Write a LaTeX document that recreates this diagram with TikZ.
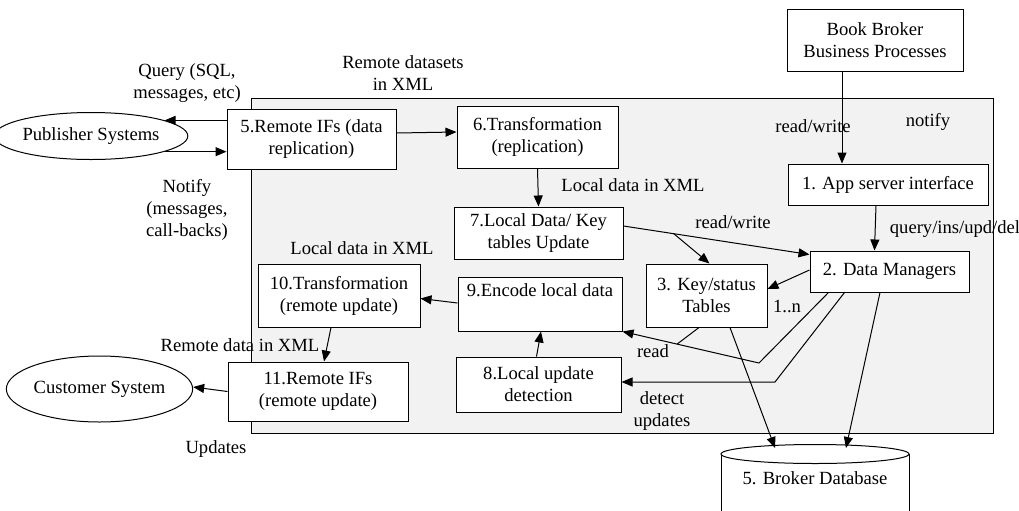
\documentclass[tikz,border=0pt]{standalone}
\usepackage{fontspec}
\setmainfont{Liberation Serif}
\usepackage{tikz}
\usetikzlibrary{arrows.meta, shapes.geometric, calc}

\begin{document}
\begin{tikzpicture}[x=0.5pt, y=-0.5pt,
        font=\fontsize{9.3}{11}\selectfont,
        box/.style 2 args={draw, fill=white, line width=0.5pt, inner sep=0pt, align=center,
            minimum width=#1*0.5pt, minimum height=#2*0.5pt},
        sys/.style 2 args={draw, ellipse, fill=white, line width=0.5pt, inner sep=0pt,
            minimum width=#1*0.5pt, minimum height=#2*0.5pt},
        flow/.style={-{Triangle[length=5.5pt, width=4.5pt]}, line width=0.5pt},
        link/.style={line width=0.5pt},
        lbl/.style={align=center, inner sep=0pt}]
        \def\panel{gray!10}
        \def\dbx{815}
        \def\dby{454}

        \useasboundingbox (0,0) rectangle (1019,510);
        \draw[link, fill=\panel] (251,98) rectangle (993,433);

        \node[sys={162}{47}] (pub) at (91,136) {Publisher Systems};
        \node[sys={165}{66}] (cust) at (99.5,389) {Customer System};

        \node[box={176}{62}] (bb) at (875,40) {Book Broker\\Business Processes};
        \node[box={200}{41}] (b1) at (888,184.5) {\raisebox{2pt}{1. App server interface}};
        \node[box={159}{41}] (b2) at (889.5,271.5) {\raisebox{1.5pt}{2. Data Managers}};
        \node[box={121}{63}] (b3) at (706.5,295.5) {3. Key/status\\Tables};
        \node[box={169}{60}] (b5) at (311.5,139) {5.Remote IFs (data\\replication)};
        \node[box={161}{62}] (b6) at (537.5,137) {6.Transformation\\(replication)};
        \node[box={169}{52}] (b7) at (538.5,233) {7.Local Data/ Key\\tables Update};
        \node[box={165}{55}] (b8) at (538.5,384.5) {8.Local update\\detection};
        \node[box={164}{54}] (b9) at (540,304) {9.Encode local data\\\strut};
        \node[box={162}{63}] (b10) at (339,295.5) {10.Transformation\\(remote update)};
        \node[box={180}{59}] (b11) at (318,391.5) {11.Remote IFs\\(remote update)};

        % broker database, its base runs off the page
        \fill[white] (\dbx-94,\dby) rectangle (\dbx+94,520);
        \draw[link] (\dbx-94,\dby) -- (\dbx-94,520) (\dbx+94,\dby) -- (\dbx+94,520);
        \draw[link, fill=white] (\dbx,\dby) ellipse [x radius=94, y radius=9.5];
        \node (db) at (\dbx,478) {5. Broker Database};
        \coordinate (dbl) at (\dbx-40,\dby-6);
        \coordinate (dbr) at (\dbx+31,\dby-6);

        \draw[flow] (b5.west |- pub.12) -- (pub.12);
        \draw[flow] (pub.-12) -- (b5.west |- pub.-12);
        \draw[flow] ([yshift=3pt]b5.east) -- ([yshift=2.5pt]b6.west);
        \draw[flow] (b6.south) -- (b7.north);

        \coordinate (s7) at ([yshift=3.5pt]b7.east);
        \coordinate (e7) at ([yshift=-2pt]b2.north west);
        \draw[flow] (s7) -- (e7);
        \draw[flow] ($(s7)!0.27!(e7)$) -- ([xshift=1.5pt]b3.north);

        \draw[flow] ([xshift=-16.5pt]bb.south) -- ([xshift=-23pt]b1.north);
        \draw[flow] ([xshift=-6pt]b1.south) -- ([xshift=-7.5pt]b2.north);
        \draw[flow] ([yshift=0.75pt]b2.west) -- ([yshift=3.25pt]b3.east);

        \coordinate (rd) at (759,363);
        \coordinate (dt) at (775,382);
        \draw[flow] ([xshift=9.5pt]b2.south west) -- (rd) -- (b9.south east);
        \draw[link] ([xshift=-3.75pt]b3.south) -- ($(rd)!0.6!(b9.south east)$);
        \draw[flow] ([xshift=17.5pt]b2.south west) -- (dt) -- (b8.east |- dt);

        \draw[flow] ([xshift=11.75pt]b3.south) -- (dbl);
        \draw[flow] ([xshift=-4.75pt]b2.south) -- (dbr);

        \draw[flow] ([xshift=-1pt]b8.north) -- ([xshift=0.5pt]b9.south);
        \draw[flow] ([yshift=0.5pt]b9.west) -- ([yshift=-1.5pt]b10.east);
        \draw[flow] ([xshift=-4pt]b10.south) -- ([xshift=3pt]b11.north);
        \draw[flow] (b11.west) -- ([yshift=1pt]cust.east);

        \node[lbl] (lq) at (187,83) {Query (SQL,\\messages, etc)};
        \node[lbl] (ln) at (187,210) {Notify\\(messages,\\call-backs)};
        \node[lbl] (lrd) at (403,73.5) {Remote datasets\\in XML};
        \node[lbl] (lld) at (633,185) {Local data in XML};
        \node[lbl] (lrw) at (813,126) {read/write};
        \node[lbl] (lnt) at (928,122) {notify};
        \node[lbl] (lqu) at (955,229) {query/ins/upd/del};
        \node[lbl] (lrw2) at (733,222) {read/write};
        \node[lbl] (lmul) at (787,306) {1..n};
        \node[lbl] (lrea) at (653,351) {read};
        \node[lbl] (ldet) at (662,411) {detect\\updates};
        \node[lbl] (lld2) at (362,248) {Local data in XML};
        \node[lbl] (lrem) at (240,345) {Remote data in XML};
        \node[lbl] (lup) at (216,449) {Updates};
    \end{tikzpicture}
\end{document}
